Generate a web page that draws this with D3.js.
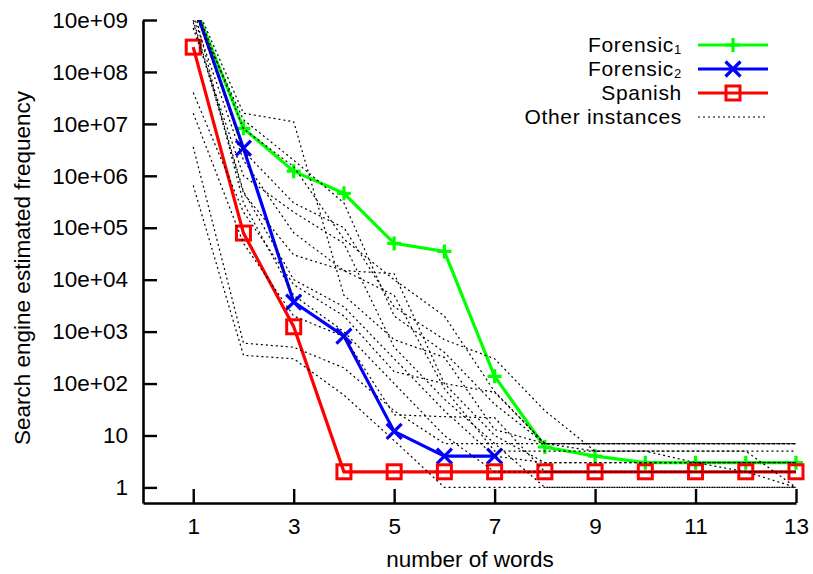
<!DOCTYPE html>
<html>
<head>
<meta charset="utf-8">
<script src="https://cdn.jsdelivr.net/npm/d3@7/dist/d3.min.js"></script>
<style>
  html, body { margin: 0; padding: 0; background: #fff; }
  svg { display: block; font-family: "Liberation Sans", Arial, Helvetica, sans-serif; }
  .axis text { font-size: 22.5px; fill: #000; }
</style>
</head>
<body>
<svg id="chart" width="813" height="574"></svg>
<script>
// ---- data ----
const words = [1, 2, 3, 4, 5, 6, 7, 8, 9, 10, 11, 12, 13];
const forensic1 = [2.2e9, 8.2e6, 1.23e6, 4.6e5, 5.0e4, 3.5e4, 138, 6, 4, 3, 3, 3, 3];
const forensic2 = [2.2e9, 3.4e6, 3.7e3, 820, 12, 4, 4];
const spanish   = [3.0e8, 7.9e4, 1.24e3, 2, 2, 2, 2, 2, 2, 2, 2, 2, 2];
const other1  = [2.5e9, 1.6e7, 1.1e7, 5e3, 700, 320, 13, 7, 7, 7, 7, 7, 7];
const other2  = [2.3e9, 8e6, 1.5e6, 6e4, 1e4, 2e3, 70, 7, 5, 5, 5, 5, 5];
const other3  = [9e8, 4.6e5, 3e4, 1.5e4, 1.3e4, 100, 10, 3, 3, 3, 3, 3, 3];
const other4  = [4e7, 2e5, 8e3, 2e3, 170, 100, 68, 7, 7, 7, 7, 7, 7];
const other5  = [1.6e7, 5e4, 2e3, 800, 25, 23, 22, 2, 2, 2, 2, 2, 2];
const other6  = [3.6e6, 600, 500, 200, 30, 7, 7, 7, 7, 7, 7, 7, 7];
const other7  = [6.5e5, 350, 300, 60, 8, 1, 1, 1, 1, 1, 1, 1, 1];
const other8  = [2e9, 3e6, 3e5, 1e5, 3e3, 700, 300, 30, 5, 5, 5, 5, 1];
const other9  = [1.5e9, 1.2e7, 2e6, 3e5, 2e3, 400, 40, 7, 7, 7, 7, 7, 7];
const other10 = [1.2e9, 2e6, 8e4, 1.5e4, 5e3, 80, 5, 5, 5, 5, 3, 3, 3];
const other11 = [1e9, 5e5, 1e4, 3e3, 300, 30, 4, 3, 3, 3, 3, 2, 1];
const other12 = [1.8e9, 3e5, 5e3, 1e3, 100, 10, 2, 2, 2, 2, 2, 2, 2];
const other13 = [7e8, 1e6, 2e5, 5e4, 500, 50, 7, 1, 1, 1, 1, 1, 1];
const others = [other1, other2, other3, other4, other5, other6, other7, other8, other9, other10, other11, other12, other13];
const xTicks = [1, 3, 5, 7, 9, 11, 13];
const yTicks = [1, 10, 1e2, 1e3, 1e4, 1e5, 1e6, 1e7, 1e8, 1e9];
const yTickLabels = ["1", "10", "10e+02", "10e+03", "10e+04", "10e+05", "10e+06", "10e+07", "10e+08", "10e+09"];
const seriesNames = ["Forensic", "Forensic", "Spanish", "Other instances"];
const seriesSubs = ["1", "2", "", ""];

// ---- layout ----
const svg = d3.select("#chart");
const L = 143, R = 796, T = 20, B = 503;
const x = d3.scaleLinear().domain([0, 13]).range([L, R]);
const y = d3.scaleLog().domain([Math.pow(10, -0.3), 1e9]).range([B, T]);

svg.append("defs").append("clipPath").attr("id", "clip")
  .append("rect").attr("x", L).attr("y", T).attr("width", R - L + 20).attr("height", B - T);

// axes
const yAxis = svg.append("g").attr("class", "axis").attr("transform", `translate(${L},0)`)
  .call(d3.axisLeft(y).tickValues(yTicks).tickFormat((d, i) => yTickLabels[i])
    .tickSize(-14).tickSizeOuter(0).tickPadding(15));
const xAxis = svg.append("g").attr("class", "axis").attr("transform", `translate(0,${B})`)
  .call(d3.axisBottom(x).tickValues(xTicks).tickFormat(d3.format("d"))
    .tickSize(-14).tickSizeOuter(0).tickPadding(15));
svg.selectAll(".axis path.domain").attr("stroke", "#000").attr("stroke-width", 2.6);
svg.selectAll(".axis .tick line").attr("stroke", "#000").attr("stroke-width", 2.4);
xAxis.selectAll("text").attr("dy", "0.71em");

svg.append("text").attr("x", 470).attr("y", 567).attr("text-anchor", "middle")
  .style("font-size", "22.5px").text("number of words");
svg.append("text").attr("transform", "translate(30,268) rotate(-90)").attr("text-anchor", "middle")
  .style("font-size", "22.5px").text("Search engine estimated frequency");

// ---- plotting ----
const plot = svg.append("g").attr("clip-path", "url(#clip)");
const line = d3.line().x((d, i) => x(words[i])).y(d => y(d));

function plus(g, cx, cy, color) {
  g.append("path").attr("d", `M${cx - 7},${cy}H${cx + 7}M${cx},${cy - 7}V${cy + 7}`)
    .attr("stroke", color).attr("stroke-width", 3.2).attr("fill", "none");
}
function cross(g, cx, cy, color) {
  g.append("path").attr("d", `M${cx - 7.5},${cy - 7.5}L${cx + 7.5},${cy + 7.5}M${cx - 7.5},${cy + 7.5}L${cx + 7.5},${cy - 7.5}`)
    .attr("stroke", color).attr("stroke-width", 3.2).attr("fill", "none");
}
function square(g, cx, cy, color) {
  g.append("rect").attr("x", cx - 7).attr("y", cy - 7).attr("width", 14).attr("height", 14)
    .attr("stroke", color).attr("stroke-width", 3).attr("fill", "none");
}

const main = [
  { data: forensic1, color: "#00ff00", marker: plus },
  { data: forensic2, color: "#0000ff", marker: cross },
  { data: spanish, color: "#ff0000", marker: square }
];
main.forEach(s => {
  plot.append("path").datum(s.data).attr("d", line)
    .attr("fill", "none").attr("stroke", s.color).attr("stroke-width", 3.2);
  s.data.forEach((v, i) => s.marker(plot, x(words[i]), y(v), s.color));
});

others.forEach(o => {
  plot.append("path").datum(o).attr("d", line)
    .attr("fill", "none").attr("stroke", "#000").attr("stroke-width", 1.2)
    .attr("stroke-dasharray", "2,3");
});

// ---- legend ----
const legY = [45, 69, 93, 117];
const leg = svg.append("g");
seriesNames.forEach((name, i) => {
  const t = leg.append("text").attr("x", 682).attr("y", legY[i] + 7).attr("text-anchor", "end")
    .style("font-size", "21px").style("letter-spacing", "0.7px");
  t.append("tspan").text(name);
  if (seriesSubs[i]) t.append("tspan").attr("dy", 2).style("font-size", "13px").text(seriesSubs[i]);
  const ln = leg.append("line").attr("x1", 698).attr("x2", 768).attr("y1", legY[i]).attr("y2", legY[i]);
  if (i < 3) {
    ln.attr("stroke", main[i].color).attr("stroke-width", 3.2);
    main[i].marker(leg, 733, legY[i], main[i].color);
  } else {
    ln.attr("stroke", "#000").attr("stroke-width", 1.2).attr("stroke-dasharray", "2,3");
  }
});
</script>
</body>
</html>
